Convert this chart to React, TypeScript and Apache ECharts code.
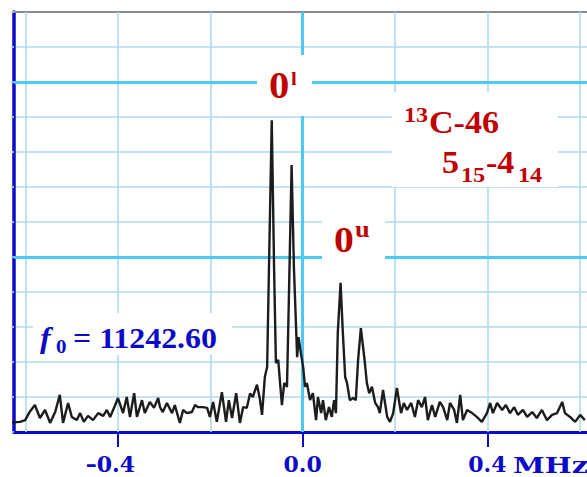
import React, { useEffect, useRef } from "react";
import * as echarts from "echarts";

// Spectrum trace (frequency offset in MHz, intensity in arbitrary units)
const freqMHz = [
  -0.634, -0.612, -0.601, -0.591, -0.58, -0.569, -0.558, -0.547, -0.536, -0.526,
  -0.519, -0.508, -0.5, -0.489, -0.482, -0.474, -0.465, -0.454, -0.443, -0.432,
  -0.424, -0.417, -0.406, -0.4, -0.389, -0.381, -0.374, -0.365, -0.359, -0.348,
  -0.342, -0.331, -0.322, -0.313, -0.309, -0.303, -0.294, -0.283, -0.277, -0.266,
  -0.259, -0.251, -0.24, -0.233, -0.227, -0.216, -0.207, -0.201, -0.194, -0.186,
  -0.175, -0.166, -0.16, -0.153, -0.144, -0.136, -0.129, -0.121, -0.114, -0.108,
  -0.099, -0.093, -0.088, -0.082, -0.077, -0.073, -0.067, -0.062, -0.058, -0.053,
  -0.049, -0.045, -0.04, -0.034, -0.03, -0.024, -0.019, -0.012, -0.009, -0.004,
  0.001, 0.005, 0.009, 0.016, 0.022, 0.029, 0.033, 0.04, 0.044, 0.05,
  0.057, 0.063, 0.068, 0.072, 0.076, 0.082, 0.087, 0.092, 0.096, 0.102,
  0.109, 0.115, 0.12, 0.126, 0.134, 0.139, 0.144, 0.15, 0.157, 0.163,
  0.167, 0.174, 0.183, 0.189, 0.196, 0.204, 0.213, 0.219, 0.226, 0.235,
  0.243, 0.25, 0.258, 0.265, 0.271, 0.28, 0.287, 0.297, 0.304, 0.313,
  0.319, 0.328, 0.334, 0.341, 0.347, 0.356, 0.367, 0.377, 0.388, 0.399,
  0.406, 0.412, 0.421, 0.432, 0.44, 0.449, 0.458, 0.466, 0.477, 0.486,
  0.497, 0.507, 0.518, 0.529, 0.54, 0.551, 0.562, 0.568, 0.579, 0.59,
  0.601, 0.611,
];
const intensity = [
  0.27, 0.29, 0.34, 0.58, 0.77, 0.4, 0.63, 0.26, 0.57, 1.06,
  0.26, 0.83, 0.43, 0.34, 0.54, 0.29, 0.46, 0.34, 0.54, 0.46,
  0.63, 0.43, 0.77, 0.97, 0.54, 1.0, 0.43, 1.11, 0.43, 0.91,
  0.54, 0.86, 0.69, 0.97, 0.71, 0.57, 0.83, 0.54, 0.77, 0.26,
  0.63, 0.54, 0.57, 0.77, 0.71, 0.71, 0.69, 0.43, 0.86, 0.29,
  1.14, 0.29, 0.91, 0.4, 1.11, 0.26, 0.71, 0.69, 1.1, 1.0,
  1.35, 0.97, 0.49, 1.57, 1.86, 4.7, 8.91, 4.7, 1.97, 2.06,
  1.4, 0.77, 1.4, 1.29, 3.77, 7.63, 4.7, 2.14, 2.71, 2.26,
  1.86, 1.29, 1.4, 0.91, 1.11, 0.34, 1.0, 0.54, 0.91, 0.34,
  0.71, 0.43, 0.91, 0.54, 2.83, 4.26, 2.83, 1.57, 1.4, 0.91,
  0.97, 0.91, 2.06, 2.97, 2.06, 1.4, 1.11, 1.29, 0.83, 0.71,
  0.54, 1.2, 0.43, 0.29, 0.54, 1.26, 0.54, 0.83, 0.63, 0.83,
  0.43, 0.91, 0.71, 1.0, 0.34, 0.77, 0.43, 0.86, 0.71, 0.34,
  0.83, 0.63, 0.26, 1.06, 0.34, 0.63, 0.54, 0.43, 0.29, 0.54,
  0.83, 0.54, 0.83, 0.63, 0.77, 0.54, 0.71, 0.49, 0.63, 0.43,
  0.57, 0.4, 0.63, 0.34, 0.49, 0.54, 0.86, 0.54, 0.43, 0.29,
  0.49, 0.34,
];

const gridX = [-0.6, -0.4, -0.2, 0.2, 0.4, 0.6];
const brightX = [0];
const brightY = [5, 10];
const tickValues = [-0.4, 0, 0.4];
const xMin = -0.6252;
const xMax = 0.6157;
const yMax = 12;

const RED = "#c00000";
const BLUE = "#0a0ac8";
const LIGHT = "#acdaeb";
const BRIGHT = "#4fc8f4";
const SERIF = "Liberation Serif";

type Lbl = { t: string; x: number; y: number; fs: number; c: string; it?: boolean };
const labels: Lbl[] = [
  { t: "0", x: 269, y: 85, fs: 37, c: RED },
  { t: "l", x: 291, y: 78.5, fs: 19, c: RED },
  { t: "0", x: 334, y: 240, fs: 36, c: RED },
  { t: "u", x: 355, y: 229, fs: 24, c: RED },
  { t: "13", x: 404, y: 114.5, fs: 22, c: RED },
  { t: "C-46", x: 429, y: 122.5, fs: 31, c: RED },
  { t: "5", x: 442, y: 162.5, fs: 31, c: RED },
  { t: "15", x: 461, y: 174.5, fs: 22, c: RED },
  { t: "-4", x: 486, y: 162.5, fs: 31, c: RED },
  { t: "14", x: 518, y: 174.5, fs: 22, c: RED },
  { t: "f", x: 40, y: 338, fs: 29, c: BLUE, it: true },
  { t: "0", x: 56, y: 346.5, fs: 19, c: BLUE },
  { t: "= 11242.60", x: 73, y: 338, fs: 29, c: BLUE },
];

const boxes = [
  [257, 55, 55, 61],
  [392, 92, 166, 95],
  [322, 200, 63, 75],
  [33, 313, 199, 42],
];

export default function App() {
  const ref = useRef<HTMLDivElement>(null);
  useEffect(() => {
    if (!ref.current) return;
    const chart = echarts.init(ref.current, undefined, { renderer: "svg" });
    const markData: any[] = [
      ...gridX.map((v) => ({ xAxis: v, lineStyle: { color: LIGHT, width: 1.6, type: "solid" } })),
      ...brightX.map((v) => ({ xAxis: v, lineStyle: { color: BRIGHT, width: 3, type: "solid" } })),
      ...brightY.map((v) => ({ yAxis: v, lineStyle: { color: BRIGHT, width: 3, type: "solid" } })),
    ];
    const graphic: any[] = [
      ...boxes.map((b) => ({
        type: "rect",
        z: 10,
        shape: { x: b[0], y: b[1], width: b[2], height: b[3] },
        style: { fill: "#ffffff" },
        silent: true,
      })),
      ...labels.map((l) => ({
        type: "text",
        z: 11,
        x: l.x,
        y: l.y,
        scaleX: 1.1,
        style: {
          text: l.t,
          fill: l.c,
          fontFamily: SERIF,
          fontSize: l.fs,
          fontWeight: "bold",
          fontStyle: l.it ? "italic" : "normal",
          align: "left",
          verticalAlign: "middle",
        },
      })),
      {
        type: "text",
        z: 11,
        x: 513,
        y: 465,
        scaleX: 1.3,
        style: {
          text: "MHz",
          fill: BLUE,
          fontFamily: "DejaVu Serif",
          fontSize: 22,
          fontWeight: "bold",
          align: "left",
          verticalAlign: "middle",
        },
      },
    ];
    chart.setOption({
      animation: false,
      backgroundColor: "#ffffff",
      grid: { left: 14, right: 0, top: 12, bottom: 45, containLabel: false },
      xAxis: [
        {
          type: "value",
          position: "bottom",
          min: xMin,
          max: xMax,
          axisLine: { show: true, onZero: false, lineStyle: { color: BLUE, width: 3 } },
          axisTick: { show: true, customValues: tickValues, length: 15, lineStyle: { color: BLUE, width: 2 } },
          axisLabel: {
            show: true,
            customValues: tickValues,
            margin: 21,
            color: BLUE,
            fontFamily: "DejaVu Serif",
            fontWeight: "bold",
            fontSize: 22,
            formatter: (v: number) =>
              v < 0 ? "\u2013" + Math.abs(v).toFixed(1) + "\u00a0\u00a0" : v.toFixed(1),
          },
          splitLine: { show: false },
        },
        {
          type: "value",
          position: "top",
          min: xMin,
          max: xMax,
          axisLine: { show: true, onZero: false, lineStyle: { color: "#8c8c8c", width: 2 } },
          axisTick: { show: false },
          axisLabel: { show: false },
          splitLine: { show: false },
        },
      ],
      yAxis: {
        type: "value",
        min: 0,
        max: yMax,
        interval: 1,
        axisLine: { show: true, onZero: false, lineStyle: { color: BLUE, width: 3.5 } },
        axisTick: { show: true, length: 3, lineStyle: { color: LIGHT, width: 1.6 } },
        axisLabel: { show: false },
        splitLine: { show: true, lineStyle: { color: LIGHT, width: 1.6 } },
      },
      series: [
        {
          type: "line",
          data: [[0, 0]],
          symbol: "none",
          lineStyle: { width: 0, opacity: 0 },
          z: 1,
          silent: true,
          markLine: {
            silent: true,
            z: 1,
            symbol: ["none", "none"],
            label: { show: false },
            emphasis: { disabled: true },
            data: markData,
          },
        },
        {
          type: "line",
          data: freqMHz.map((x, i) => [x, intensity[i]]),
          showSymbol: false,
          symbol: "none",
          z: 3,
          lineStyle: { color: "#1c1c1c", width: 2.4 },
        },
      ],
      graphic,
    });
    return () => chart.dispose();
  }, []);
  return (
    <div
      ref={ref}
      style={{ position: "fixed", left: 0, top: 0, width: 587, height: 477, background: "#fff" }}
    />
  );
}
